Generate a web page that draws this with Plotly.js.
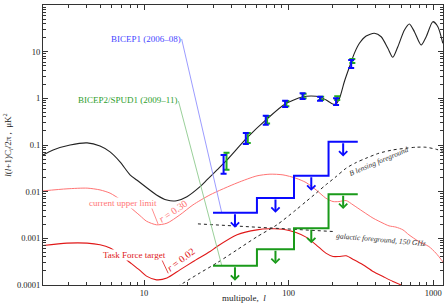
<!DOCTYPE html>
<html><head><meta charset="utf-8">
<script src="https://cdn.plot.ly/plotly-3.0.1.min.js"></script>
<style>html,body{margin:0;padding:0;background:#fff;}#chart{width:446px;height:305px;}</style>
</head><body><div id="chart"></div>
<script>
// ---- data ----
const eeL = [2, 2.35, 3.08, 4.04, 4.96, 5.82, 6.82, 8.0, 8.9, 12.2, 14.4, 16.8, 19.8, 24.4, 27.2, 32, 37.5, 51.5, 70.9, 94.5, 124, 143, 165, 182, 202, 213, 225, 243, 264, 285, 309, 344, 392, 437, 486, 526, 570, 633, 685, 742, 826, 895, 995, 1078, 1167];
const eeV = [0.0614, 0.0785, 0.1, 0.111, 0.095, 0.071, 0.0435, 0.0229, 0.0178, 0.0085, 0.0066, 0.0064, 0.0078, 0.0128, 0.0178, 0.0293, 0.048, 0.142, 0.362, 0.758, 1.07, 1.12, 1.07, 0.92, 0.756, 0.756, 1.0, 2.27, 4.77, 9.2, 15.1, 21.7, 24.8, 20.9, 11.8, 7.57, 12.8, 29.1, 39.2, 26.8, 13.9, 20.9, 43.9, 34.3, 15.1];

const r30L = [2.0, 2.93, 4.04, 4.96, 5.82, 6.82, 8.0, 9.37, 10.4, 12.2, 14.4, 17.7, 21.8, 28.6, 44, 60.4, 74.3, 91.4, 112.5, 132, 155, 181, 203, 223, 250, 279, 327, 384, 450, 495, 553, 618, 680, 797, 935, 1045, 1188];
const r30V = [0.0104, 0.0115, 0.0119, 0.0109, 0.0093, 0.00685, 0.00465, 0.00307, 0.00233, 0.00195, 0.00211, 0.00318, 0.00521, 0.00854, 0.0154, 0.0218, 0.0237, 0.0229, 0.0194, 0.0157, 0.0109, 0.00726, 0.00614, 0.00614, 0.00645, 0.00522, 0.00375, 0.00271, 0.00211, 0.00185, 0.00174, 0.00152, 0.00119, 0.000854, 0.000667, 0.000482, 0.000294];

const r02L = [2.0, 2.93, 4.04, 4.96, 5.82, 6.82, 8.0, 9.37, 10.4, 12.2, 14.4, 17.7, 21.9, 28.6, 32, 44, 60.4, 74.3, 91.4, 112.5, 132, 155, 181, 203, 223, 250, 283, 327, 384, 450, 527, 598, 680];
const r02V = [0.000701, 0.000789, 0.000789, 0.000726, 0.00062, 0.000447, 0.000303, 0.000205, 0.000155, 0.000129, 0.000141, 0.000211, 0.000318, 0.000521, 0.000667, 0.00119, 0.00152, 0.0016, 0.00157, 0.00133, 0.00106, 0.000726, 0.000482, 0.000408, 0.000408, 0.000422, 0.000347, 0.000271, 0.000195, 0.000152, 0.000119, 0.0001, 0.00008];

const lensL = [17, 24.4, 32, 44, 60.4, 83.1, 112.5, 132, 155, 181, 213, 250, 293, 343, 422, 527, 648, 760, 891, 1045, 1188];
const lensV = [0.000092, 0.000182, 0.000299, 0.000567, 0.00108, 0.00195, 0.00407, 0.00614, 0.00929, 0.014, 0.021, 0.0318, 0.042, 0.052, 0.0667, 0.0785, 0.0853, 0.0896, 0.0896, 0.0813, 0.072];

const galL = [23.6, 60.4, 120, 203];
const galV = [0.00204, 0.00172, 0.00152, 0.0014];

const b1L  = [35.5, 50.6, 69.5, 94.6, 125, 165, 213, 271];
const b1V  = [0.0384, 0.138, 0.34, 0.766, 1.114, 0.986, 0.862, 5.47];
const b1Hi = [0.0614, 0.1815, 0.4255, 0.893, 1.285, 1.087, 1.01, 6.6];
const b1Lo = [0.0243, 0.1057, 0.2705, 0.655, 0.97, 0.893, 0.72, 4.45];

const b2L  = [37.2, 52.2, 71, 96.5, 127, 168, 217, 276];
const b2V  = [0.0446, 0.141, 0.35, 0.78, 1.12, 1.0, 1.01, 6.3];
const b2Hi = [0.0684, 0.1815, 0.42, 0.88, 1.25, 1.08, 1.11, 7.0];
const b2Lo = [0.0294, 0.110, 0.29, 0.68, 1.0, 0.92, 0.92, 5.75];

const bandEdges = [30, 60.4, 109, 189, 301];
const bicep1Lim = [0.00352, 0.00736, 0.0218, 0.118];
const bicep2Lim = [0.000258, 0.000587, 0.00164, 0.00884];

const xTickVals = [10, 100, 1000];
const xTickText = ['10', '100', '1000'];
const yTickVals = [0.0001, 0.001, 0.01, 0.1, 1, 10, 100];
const yTickText = ['0.0001', '0.001', '0.01', '0.1', '1', '10', '100'];

// ---- styling ----
const FONT = 'Liberation Serif, Times New Roman, serif';
const BLUE = '#0a0aff', GREEN = '#1a9a1a', LRED = '#ff7474', DRED = '#e01818';
const ARROW_DEC = 0.32;

function line(x, y, color, width, dash, shape) {
  return {x, y, type: 'scatter', mode: 'lines', hoverinfo: 'skip',
    line: {color, width, dash: dash || 'solid', shape: shape || 'linear', smoothing: 0.7}};
}
function stepY(levels) { return levels.concat([levels[levels.length - 1]]); }
function errTrace(x, y, hi, lo, color) {
  return {x, y, type: 'scatter', mode: 'markers', hoverinfo: 'skip',
    marker: {size: 1, color, opacity: 0},
    error_y: {type: 'data', symmetric: false,
      array: hi.map((h, i) => h - y[i]), arrayminus: lo.map((l, i) => y[i] - l),
      color, thickness: 2, width: 3}};
}

const traces = [
  line(eeL, eeV, '#222', 1.1, 'solid', 'spline'),
  line(r30L, r30V, LRED, 1, 'solid', 'spline'),
  line(r02L, r02V, DRED, 1.1, 'solid', 'spline'),
  line(lensL, lensV, '#222', 1, '3px,3px', 'spline'),
  line(galL, galV, '#222', 1, '3px,3px'),
  // label leaders
  line([18.2, 34.4], [18.7, 0.00367], '#9c9cff', 1),
  line([17.3, 34.4], [0.877, 0.000269], '#9ad09a', 1),
  line([11.3, 12.5], [0.00447, 0.00203], LRED, 0.8),
  line([13.3, 14.7], [0.000344, 0.000178], DRED, 0.8),
  // upper-limit steps
  line(bandEdges, stepY(bicep1Lim), BLUE, 2, 'solid', 'hv'),
  line(bandEdges, stepY(bicep2Lim), GREEN, 2, 'solid', 'hv'),
  errTrace(b2L, b2V, b2Hi, b2Lo, '#22aa22'),
  errTrace(b1L, b1V, b1Hi, b1Lo, BLUE)
];

const annotations = [];
function limArrows(levels, color) {
  for (let i = 0; i < levels.length; i++) {
    const c = Math.log10(Math.sqrt(bandEdges[i] * bandEdges[i + 1]));
    const v = Math.log10(levels[i]);
    annotations.push({x: c, y: v - ARROW_DEC, ax: c, ay: v, xref: 'x', yref: 'y', axref: 'x', ayref: 'y',
      text: '', showarrow: true, arrowhead: 4, arrowsize: 0.8, arrowwidth: 2, arrowcolor: color, standoff: 0});
  }
}
limArrows(bicep1Lim, BLUE);
limArrows(bicep2Lim, GREEN);

function label(text, x, y, color, opts) {
  annotations.push(Object.assign({text, x, y, xref: 'paper', yref: 'paper', showarrow: false,
    xanchor: 'left', yanchor: 'middle', font: {family: FONT, size: 9, color}, borderpad: 0}, opts || {}));
}
label('BICEP1 (2006\u201308)', 0.168, 0.879, '#4646ff');
label('BICEP2/SPUD1 (2009\u201311)', 0.086, 0.661, '#2e9e2e');
label('current upper limit', 0.112, 0.293, LRED, {bgcolor: '#fff'});
label('Task Force target', 0.148, 0.107, DRED, {bgcolor: '#fff'});
label('<i>r</i> = 0.30', 0.324, 0.263, LRED, {xanchor: 'center', textangle: -34, font: {family: FONT, size: 10, color: LRED}});
label('<i>r</i> = 0.02', 0.345, 0.090, DRED, {xanchor: 'center', textangle: -37, font: {family: FONT, size: 10, color: DRED}});
label('<i>B lensing foreground</i>', 0.838, 0.442, '#333', {xanchor: 'center', textangle: -23, font: {family: FONT, size: 7.5, color: '#333'}});
label('<i>galactic foreground, 150 GHz</i>', 0.845, 0.163, '#333', {xanchor: 'center', textangle: 5, font: {family: FONT, size: 7.5, color: '#333'}});
label('multipole,  <i>l</i>', 0.5025, -0.047, '#222', {xanchor: 'center'});

const axisCommon = {type: 'log', showgrid: false, zeroline: false, showline: true, linecolor: '#333', linewidth: 1,
  mirror: 'allticks', ticks: 'inside', ticklen: 5, tickwidth: 1, tickcolor: '#333', tickmode: 'array',
  tickfont: {family: FONT, size: 8.5, color: '#222'},
  minor: {ticks: 'inside', ticklen: 3, tickwidth: 1, tickcolor: '#333', dtick: 'D1', showgrid: false}};

const layout = {
  width: 446, height: 305, margin: {l: 43, r: 3, t: 5, b: 20},
  paper_bgcolor: '#fff', plot_bgcolor: '#fff', showlegend: false, hovermode: false,
  xaxis: Object.assign({}, axisCommon, {range: [Math.log10(2), Math.log10(1170)], tickvals: xTickVals, ticktext: xTickText}),
  yaxis: Object.assign({}, axisCommon, {range: [-4, 2], tickvals: yTickVals, ticktext: yTickText,
    title: {text: '<i>l</i>(<i>l</i>+1)C<sub><i>l</i></sub>/2\u03c0 ,  \u03bcK<sup>2</sup>', standoff: 3,
      font: {family: FONT, size: 9, color: '#222'}}}),
  annotations
};
Plotly.newPlot('chart', traces, layout, {staticPlot: true, displayModeBar: false});
</script></body></html>
